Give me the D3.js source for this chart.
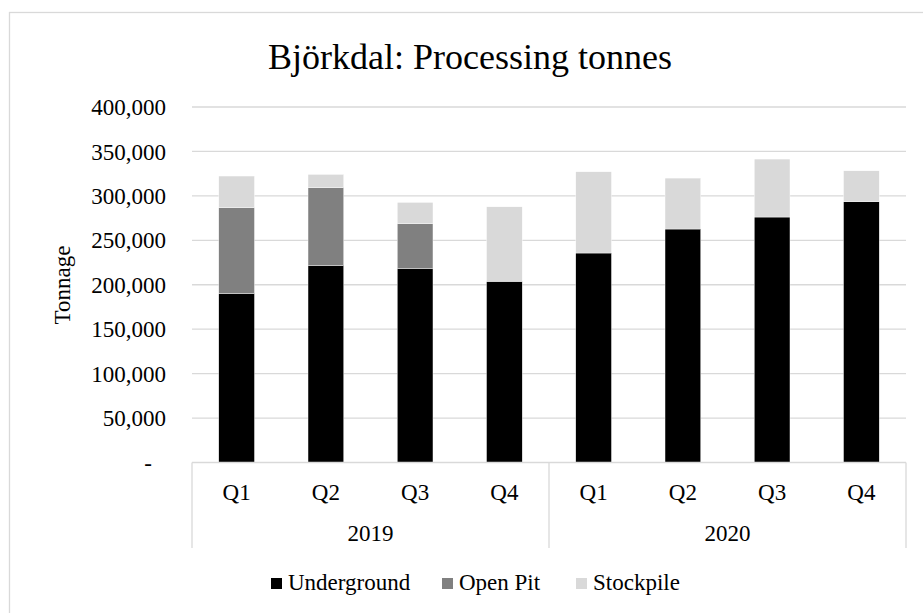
<!DOCTYPE html>
<html>
<head>
<meta charset="utf-8">
<script src="https://cdn.jsdelivr.net/npm/d3@7"></script>
<style>
  body { margin: 0; background: #fff; }
  svg { display: block; }
</style>
</head>
<body>
<svg width="923" height="613"></svg>
<script>
"use strict";

// data
var quarters = ["Q1", "Q2", "Q3", "Q4", "Q1", "Q2", "Q3", "Q4"];
var years = ["2019", "2019", "2019", "2019", "2020", "2020", "2020", "2020"];
var underground = [190000, 221400, 218000, 203800, 235700, 262700, 276200, 293400];
var openPit = [96600, 87700, 50600, 0, 0, 0, 0, 0];
var stockpile = [35700, 15100, 24100, 83900, 91400, 57300, 65200, 34800];
var seriesNames = ["Underground", "Open Pit", "Stockpile"];
var seriesColors = ["#000000", "#808080", "#d9d9d9"];
var yTicks = [0, 50000, 100000, 150000, 200000, 250000, 300000, 350000, 400000];

var FONT = "'Liberation Serif', 'Times New Roman', serif";

document.addEventListener("DOMContentLoaded", draw);

function draw() {
    var svg = d3.select("svg");
    var plotLeft = 192, plotRight = 906, plotTop = 107, plotBottom = 462.5;

    // chart frame
    svg.append("rect")
       .attr("x", 9.5).attr("y", 12.5)
       .attr("width", 940).attr("height", 640)
       .attr("fill", "#fff")
       .attr("stroke", "#d9d9d9")
       .attr("stroke-width", 1.3);

    svg.append("text")
       .attr("x", 470).attr("y", 69)
       .attr("text-anchor", "middle")
       .style("font-family", FONT)
       .style("font-size", "36px")
       .text("Björkdal: Processing tonnes");

    var rows = quarters.map(function(q, i) {
        return {key: i, Underground: underground[i], "Open Pit": openPit[i], Stockpile: stockpile[i]};
    });

    var x = d3.scaleBand()
              .domain(d3.range(quarters.length))
              .range([plotLeft, plotRight])
              .paddingInner(0.6)
              .paddingOuter(0.3);

    var y = d3.scaleLinear().domain([0, 400000]).range([plotBottom, plotTop]);

    // gridlines
    svg.append("g")
       .selectAll("line").data(yTicks.slice(1)).enter()
       .append("line")
         .attr("x1", plotLeft).attr("x2", plotRight)
         .attr("y1", function(d) { return y(d); })
         .attr("y2", function(d) { return y(d); })
         .attr("stroke", "#d9d9d9")
         .attr("stroke-width", 1.3);

    // y axis labels (no domain line)
    var yAxis = d3.axisLeft(y)
                  .tickValues(yTicks)
                  .tickSize(0)
                  .tickPadding(0)
                  .tickFormat(function(d) { return d === 0 ? "-" : d3.format(",")(d); });
    var yg = svg.append("g").attr("transform", "translate(166,0)").call(yAxis);
    yg.select(".domain").remove();
    yg.selectAll("text")
      .style("font-family", FONT)
      .style("font-size", "23px")
      .attr("fill", "#000")
      .attr("dy", "0.33em")
      .attr("dx", function(d) { return d === 0 ? -14 : 0; });

    svg.append("text")
       .attr("transform", "translate(70,285) rotate(-90)")
       .attr("text-anchor", "middle")
       .style("font-family", FONT)
       .style("font-size", "23px")
       .text("Tonnage");

    // stacked bars
    var stacked = d3.stack().keys(seriesNames)(rows);
    svg.append("g")
       .selectAll("g").data(stacked).enter()
       .append("g")
         .attr("fill", function(d, i) { return seriesColors[i]; })
       .selectAll("rect").data(function(d) { return d; }).enter()
       .append("rect")
         .attr("x", function(d) { return x(d.data.key); })
         .attr("width", x.bandwidth())
         .attr("y", function(d) { return y(d[1]); })
         .attr("height", function(d) { return y(d[0]) - y(d[1]); })
         .attr("stroke", "#fff")
         .attr("stroke-width", 0.4);

    // category axis, two levels
    var axisColor = "#d9d9d9";
    svg.append("line")
       .attr("x1", plotLeft).attr("x2", plotRight)
       .attr("y1", plotBottom).attr("y2", plotBottom)
       .attr("stroke", axisColor).attr("stroke-width", 1.3);

    var yearNames = Array.from(new Set(years));
    var groupEdges = [plotLeft];
    yearNames.forEach(function(yr) {
        var last = years.lastIndexOf(yr);
        groupEdges.push(x(last) + x.bandwidth() + x.step() * x.paddingInner() / 2);
    });
    groupEdges[groupEdges.length - 1] = plotRight;

    svg.append("g")
       .selectAll("line").data(groupEdges).enter()
       .append("line")
         .attr("x1", function(d) { return d; }).attr("x2", function(d) { return d; })
         .attr("y1", plotBottom).attr("y2", 548)
         .attr("stroke", axisColor).attr("stroke-width", 1.3);

    svg.append("g")
       .selectAll("text").data(quarters).enter()
       .append("text")
         .attr("x", function(d, i) { return x(i) + x.bandwidth() / 2; })
         .attr("y", 500)
         .attr("text-anchor", "middle")
         .style("font-family", FONT)
         .style("font-size", "23px")
         .text(function(d) { return d; });

    svg.append("g")
       .selectAll("text").data(yearNames).enter()
       .append("text")
         .attr("x", function(d, i) { return (groupEdges[i] + groupEdges[i + 1]) / 2; })
         .attr("y", 541)
         .attr("text-anchor", "middle")
         .style("font-family", FONT)
         .style("font-size", "23px")
         .text(function(d) { return d; });

    // legend
    var legendX = [271, 442, 576];
    var legend = svg.append("g")
       .selectAll("g").data(seriesNames).enter()
       .append("g")
         .attr("transform", function(d, i) { return "translate(" + legendX[i] + ",578)"; });
    legend.append("rect")
          .attr("width", 11).attr("height", 11)
          .attr("fill", function(d, i) { return seriesColors[i]; });
    legend.append("text")
          .attr("x", 17).attr("y", 12)
          .style("font-family", FONT)
          .style("font-size", "23px")
          .text(function(d) { return d; });
}
</script>
</body>
</html>
